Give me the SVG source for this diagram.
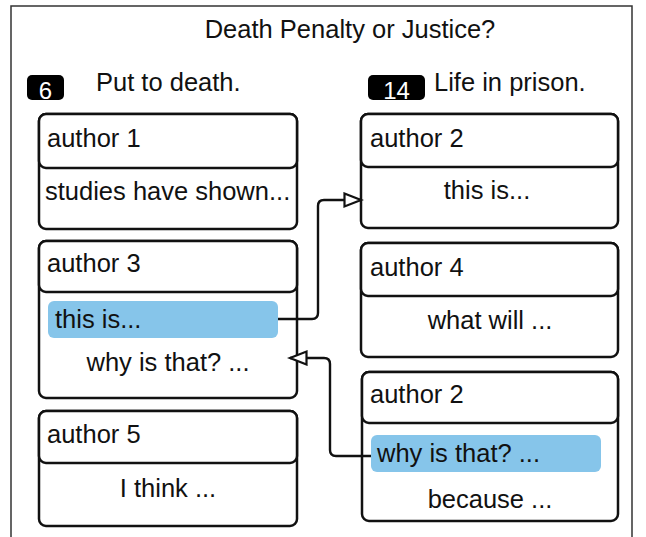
<svg xmlns="http://www.w3.org/2000/svg" width="646" height="537" viewBox="0 0 646 537">
  <style>
    text { font-family: "Liberation Sans", Arial, sans-serif; font-size: 25.5px; fill: #111; }
    .card { fill: #fff; stroke: #111; stroke-width: 2.5; }
    .hl { fill: #86c5ea; }
    .badge { fill: #000; }
    .badge-num { fill: #fff; font-size: 24px; text-anchor: middle; }
    .mid { text-anchor: middle; }
    .link { fill: none; stroke: #111; stroke-width: 2.4; }
  </style>
  <defs>
    <marker id="openTri" markerUnits="userSpaceOnUse" markerWidth="22" markerHeight="18" refX="18" refY="8" orient="auto">
      <path d="M1.5,1.5 L18,8 L1.5,14.5 Z" fill="#fff" stroke="#111" stroke-width="2.2" stroke-linejoin="miter"/>
    </marker>
  </defs>

  <rect width="646" height="537" fill="#fff"/>
  <!-- frame -->
  <path d="M11,545 V6 H632 V545" fill="none" stroke="#333" stroke-width="1.5"/>

  <text x="350" y="38" class="mid">Death Penalty or Justice?</text>

  <!-- column headers -->
  <g id="col-left-head">
    <rect class="badge" x="27" y="75" width="37" height="25" rx="5"/>
    <text class="badge-num" x="45.5" y="99">6</text>
    <text x="96" y="91">Put to death.</text>
  </g>
  <g id="col-right-head">
    <rect class="badge" x="368" y="75" width="57" height="25" rx="5"/>
    <text class="badge-num" x="396.5" y="99">14</text>
    <text x="434" y="91">Life in prison.</text>
  </g>

  <!-- left column -->
  <g id="author1">
    <rect class="card" x="39" y="114" width="258" height="115" rx="7"/>
    <rect class="card" x="39" y="114" width="258" height="54" rx="7"/>
    <text x="47" y="147">author 1</text>
    <text x="45" y="200">studies have shown...</text>
  </g>
  <g id="author3">
    <rect class="card" x="39" y="241" width="258" height="157" rx="7"/>
    <rect class="card" x="39" y="241" width="258" height="51" rx="7"/>
    <text x="47" y="272">author 3</text>
    <rect class="hl" x="48" y="301" width="230" height="37" rx="6"/>
    <text x="55" y="328">this is...</text>
    <text x="168" y="371" class="mid">why is that? ...</text>
  </g>
  <g id="author5">
    <rect class="card" x="39" y="411" width="258" height="115" rx="7"/>
    <rect class="card" x="39" y="411" width="258" height="52" rx="7"/>
    <text x="47" y="443">author 5</text>
    <text x="168" y="497" class="mid">I think ...</text>
  </g>

  <!-- right column -->
  <g id="author2a">
    <rect class="card" x="361" y="114" width="257" height="114" rx="7"/>
    <rect class="card" x="361" y="114" width="257" height="53" rx="7"/>
    <text x="370" y="147">author 2</text>
    <text x="487" y="199" class="mid">this is...</text>
  </g>
  <g id="author4">
    <rect class="card" x="361" y="243" width="257" height="114" rx="7"/>
    <rect class="card" x="361" y="243" width="257" height="53" rx="7"/>
    <text x="370" y="276">author 4</text>
    <text x="490" y="329" class="mid">what will ...</text>
  </g>
  <g id="author2b">
    <rect class="card" x="362" y="372" width="256" height="149" rx="7"/>
    <rect class="card" x="362" y="372" width="256" height="51" rx="7"/>
    <text x="370" y="403">author 2</text>
    <rect class="hl" x="371" y="435" width="230" height="37" rx="6"/>
    <text x="377" y="462">why is that? ...</text>
    <text x="490" y="508" class="mid">because ...</text>
  </g>

  <!-- connectors -->
  <g id="links">
    <path class="link" d="M278,319 H312 Q318,319 318,313 V206 Q318,200 324,200 H361" marker-end="url(#openTri)"/>
    <path class="link" d="M371,456 H336 Q330,456 330,450 V364 Q330,358 324,358 H290" marker-end="url(#openTri)"/>
  </g>
</svg>
